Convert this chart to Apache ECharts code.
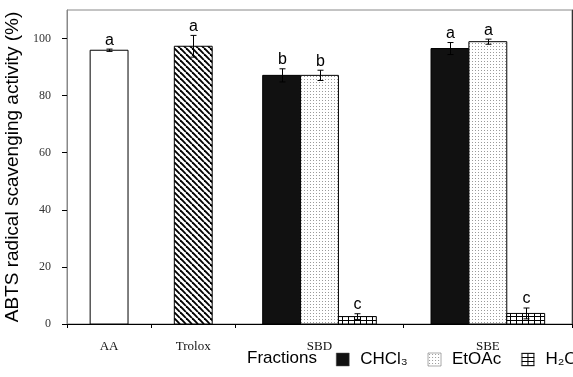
<!DOCTYPE html>
<html>
<head>
<meta charset="utf-8">
<script src="https://cdn.jsdelivr.net/npm/echarts@6/dist/echarts.min.js"></script>
<style>
  html, body { margin: 0; padding: 0; background: #fff; }
  #chart { width: 573px; height: 377px; }
</style>
</head>
<body>
<div id="chart"></div>
<script>
// groups along the x axis and where their centres sit (axis units)
const categories = ['AA', 'Trolox', 'SBD', 'SBE']
const categoryPos = [0.5, 1.5, 3, 5]
const groupTicks = [0, 1, 2, 4, 6]
const yTicks = [0, 20, 40, 60, 80, 100]

// reference antioxidants
const stdNames = ['AA', 'Trolox']
const stdValues = [95.9, 97.3]
const stdErr = [0.4, 3.8]
const stdLetters = ['a', 'a']

// fractions of SBD and SBE
const fractionNames = ['CHCl₃', 'EtOAc', 'H₂O']
const chcl3 = [87.1, 96.5]
const chcl3Err = [2.3, 2.1]
const chcl3Letters = ['b', 'a']
const etoac = [87.1, 98.9]
const etoacErr = [1.8, 0.9]
const etoacLetters = ['b', 'a']
const h2o = [2.6, 3.7]
const h2oErr = [1.0, 1.9]
const h2oLetters = ['c', 'c']

const BAR_W = 0.45

function tile(w, h, draw) {
  const c = document.createElement('canvas')
  c.width = w
  c.height = h
  const ctx = c.getContext('2d')
  ctx.fillStyle = '#fff'
  ctx.fillRect(0, 0, w, h)
  draw(ctx)
  return { image: c, repeat: 'repeat' }
}

const hatch = tile(6, 6, ctx => {
  ctx.strokeStyle = '#000'
  ctx.lineWidth = 1.9
  for (const o of [-6, 0, 6]) {
    ctx.beginPath()
    ctx.moveTo(o, 0)
    ctx.lineTo(o + 6, 6)
    ctx.stroke()
  }
})

const dots = tile(3, 3, ctx => {
  ctx.fillStyle = '#9a9a9a'
  ctx.fillRect(1, 1, 1, 1)
})

const grid = tile(6, 4, ctx => {
  ctx.fillStyle = '#000'
  ctx.fillRect(0, 0, 6, 1)
  ctx.fillRect(0, 0, 1, 4)
})

function barRender(offset, fills, letters) {
  return function (params, api) {
    const i = params.dataIndex
    const x = api.value(0) + offset
    const y = api.value(1)
    const e = api.value(2)
    const p0 = api.coord([x - BAR_W / 2, 0])
    const p1 = api.coord([x + BAR_W / 2, y])
    const top = api.coord([x, y + e])
    const bot = api.coord([x, y - e])
    const cx = Math.round(top[0]) + 0.5
    const fill = Array.isArray(fills) ? fills[i] : fills
    return {
      type: 'group',
      children: [
        {
          type: 'rect',
          shape: { x: p0[0], y: p1[1], width: p1[0] - p0[0], height: p0[1] - p1[1] },
          style: { fill: fill, stroke: '#000', lineWidth: 1 }
        },
        {
          type: 'line',
          shape: { x1: cx, y1: top[1], x2: cx, y2: bot[1] },
          style: { stroke: '#000', lineWidth: 1 }
        },
        {
          type: 'line',
          shape: { x1: cx - 3, y1: top[1], x2: cx + 3, y2: top[1] },
          style: { stroke: '#000', lineWidth: 1 }
        },
        {
          type: 'line',
          shape: { x1: cx - 3, y1: bot[1], x2: cx + 3, y2: bot[1] },
          style: { stroke: '#000', lineWidth: 1 }
        },
        {
          type: 'text',
          style: {
            text: letters[i],
            x: cx,
            y: top[1] - 1,
            align: 'center',
            verticalAlign: 'bottom',
            fontFamily: 'Liberation Sans',
            fontSize: 16,
            fill: '#000'
          }
        }
      ]
    }
  }
}

function rows(values, errs, pos) {
  return values.map((v, i) => [pos[i], v, errs[i]])
}

const chart = echarts.init(document.getElementById('chart'))

chart.setOption({
  animation: false,
  backgroundColor: '#fff',
  grid: {
    left: 67, right: 1, top: 10, bottom: 53,
    outerBoundsMode: 'none',
    containLabel: false,
    show: true, borderColor: '#888', borderWidth: 1
  },
  xAxis: {
    type: 'value',
    min: 0,
    max: 6,
    splitLine: { show: false },
    axisLine: { show: true, lineStyle: { color: '#000', width: 1 } },
    axisTick: { show: true, customValues: groupTicks, length: 4, lineStyle: { color: '#000' } },
    axisLabel: {
      customValues: categoryPos,
      formatter: v => categories[categoryPos.indexOf(v)] || '',
      margin: 16,
      fontFamily: 'Liberation Serif',
      fontSize: 13,
      color: '#111'
    }
  },
  yAxis: [
    {
      type: 'value',
      min: 0,
      max: 110,
      name: 'ABTS radical scavenging activity (%)',
      nameLocation: 'middle',
      nameGap: 38,
      nameTextStyle: { fontFamily: 'Liberation Sans', fontSize: 19, color: '#000' },
      splitLine: { show: false },
      axisLine: { show: true, lineStyle: { color: '#888', width: 1 } },
      axisTick: { show: true, customValues: yTicks, length: 5, lineStyle: { color: '#000' } },
      axisLabel: {
        customValues: yTicks,
        margin: 16,
        fontFamily: 'Liberation Serif',
        fontSize: 12,
        color: '#333'
      }
    },
    {
      type: 'value',
      position: 'right',
      min: 0,
      max: 110,
      splitLine: { show: false },
      axisLine: { show: true, lineStyle: { color: '#333', width: 1 } },
      axisTick: { show: false },
      axisLabel: { show: false }
    }
  ],
  legend: {
    data: fractionNames,
    left: 336,
    top: 351,
    width: 320,
    padding: 0,
    icon: 'rect',
    itemWidth: 13,
    itemHeight: 13,
    itemGap: 20,
    selectedMode: false,
    formatter: n => '{s| }' + n,
    textStyle: {
      fontFamily: 'Liberation Sans', fontSize: 17, color: '#000',
      rich: { s: { width: 6 } }
    },
    itemStyle: { borderColor: '#555', borderWidth: 0.5 }
  },
  graphic: [
    {
      type: 'text',
      left: 247,
      top: 350,
      style: { text: 'Fractions', fontFamily: 'Liberation Sans', fontSize: 17, fill: '#000' }
    }
  ],
  series: [
    {
      name: 'standards',
      type: 'custom',
      encode: { x: 0, y: 1 },
      data: rows(stdValues, stdErr, categoryPos.slice(0, 2)),
      renderItem: barRender(0, ['#fff', hatch], stdLetters)
    },
    {
      name: fractionNames[0],
      type: 'custom',
      itemStyle: { color: '#111' },
      encode: { x: 0, y: 1 },
      data: rows(chcl3, chcl3Err, categoryPos.slice(2)),
      renderItem: barRender(-BAR_W, '#111', chcl3Letters)
    },
    {
      name: fractionNames[1],
      type: 'custom',
      itemStyle: { color: dots },
      encode: { x: 0, y: 1 },
      data: rows(etoac, etoacErr, categoryPos.slice(2)),
      renderItem: barRender(0, dots, etoacLetters)
    },
    {
      name: fractionNames[2],
      type: 'custom',
      itemStyle: { color: grid },
      encode: { x: 0, y: 1 },
      data: rows(h2o, h2oErr, categoryPos.slice(2)),
      renderItem: barRender(BAR_W, grid, h2oLetters)
    }
  ]
})
</script>
</body>
</html>
